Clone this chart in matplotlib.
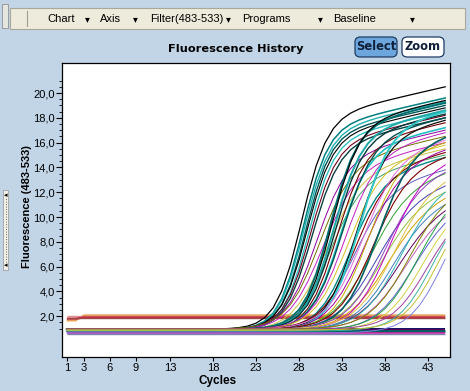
import numpy as np
import matplotlib
matplotlib.use("Agg")
import matplotlib.pyplot as plt
from matplotlib.patches import FancyBboxPatch, Rectangle

# ---------------- data ----------------
cycles = np.arange(1, 46)
x_ticks = [1, 3, 6, 9, 13, 18, 23, 28, 33, 38, 43]
y_ticks = [2, 4, 6, 8, 10, 12, 14, 16, 18, 20]
y_tick_labels = ["2,0", "4,0", "6,0", "8,0", "10,0", "12,0", "14,0", "16,0", "18,0", "20,0"]

# amplification curves:
# midpoint cycle (Ct), fluorescence at the last cycle, steepness, baseline level
amp_ct = [28.2, 28.4, 28.5, 28.7, 28.8, 29.0, 29.2, 29.4,
          29.9, 30.2, 30.6, 31.0, 31.4,
          31.5, 31.7, 31.9, 32.1, 32.3, 32.6, 32.9,
          33.2, 33.5, 33.8, 34.1, 34.4,
          34.6, 34.9, 35.2, 35.5, 35.8, 36.1, 36.4, 36.7, 37.0, 37.3, 37.7, 38.0, 38.3, 38.6,
          38.8, 39.2, 39.6, 40.0, 40.5, 41.0, 41.5, 42.0, 42.6, 43.2, 43.9, 44.6]
amp_end = [20.5, 19.6, 19.3, 19.0, 18.8, 18.5, 18.2, 18.0,
           17.0, 16.5, 16.0, 15.5, 15.0,
           19.2, 19.4, 18.6, 18.3, 17.6, 17.2, 18.0,
           16.8, 15.8, 14.8, 13.8, 15.2,
           17.8, 18.5, 16.2, 15.4, 16.0, 13.5, 14.8, 12.5, 16.4, 12.0, 13.6, 11.5, 14.2, 11.0,
           12.8, 10.5, 12.0, 10.0, 11.0, 9.5, 10.2, 9.0, 8.2, 8.0, 7.4, 6.6]
amp_k = [1.5, 1.45, 1.5, 1.45, 1.5, 1.5, 1.55, 1.6,
         1.8, 1.9, 2.0, 2.0, 1.9,
         1.6, 1.6, 1.65, 1.65, 1.7, 1.7, 1.8,
         1.9, 2.0, 1.9, 2.1, 2.0,
         1.8, 1.8, 2.1, 2.2, 2.0, 2.3, 2.1, 2.4, 2.0, 2.4, 2.2, 2.5, 2.1, 2.3,
         2.3, 2.5, 2.3, 2.4, 2.3, 2.3, 2.2, 2.2, 2.1, 2.0, 2.0, 2.0]
amp_base = [0.95, 0.90, 0.85, 0.95, 0.90, 0.80, 0.95, 0.85,
            0.90, 0.95, 0.85, 0.80, 0.90,
            0.95, 0.85, 0.90, 0.95, 0.80, 0.90, 0.85,
            0.95, 0.90, 0.85, 0.80, 0.95,
            0.90, 0.85, 0.95, 0.80, 0.90, 0.85, 0.95, 0.80, 0.90, 0.85, 0.95, 0.80, 0.90, 0.85,
            0.95, 0.80, 0.90, 0.85, 0.95, 0.80, 0.90, 0.85, 0.95, 0.80, 0.90, 0.65]
PLATEAU_DRIFT = 0.16   # slow rise of the plateau per cycle

# flat (non-amplifying) traces
flat_level = [2.08, 2.00, 1.90, 1.84, 0.97, 0.90, 0.84, 0.66, 0.60]
flat_start_level = [1.65, 2.00, 1.80, 1.84, 0.97, 0.90, 0.84, 0.66, 0.60]

# ---------------- styles ----------------
amp_color = ["#000000", "#008080", "#20B0B0", "#005858", "#000000", "#30C0C0", "#700020", "#0A4040",
             "#9000A0", "#707000", "#C020C0", "#C8C040", "#40A060",
             "#007070", "#000000", "#20A8A8", "#003838", "#700000", "#20C0C0", "#005050",
             "#C020C0", "#D0C020", "#008888", "#6060C0", "#800000",
             "#101010", "#30C8C8", "#E070E0", "#A000A0", "#C0B000", "#30A030", "#800000", "#4040B0",
             "#006060", "#90C040", "#9040C0", "#D0A000", "#C000C0", "#4080C0",
             "#E0C040", "#600060", "#30B0B0", "#C060C0", "#808000", "#6060D0", "#20A040",
             "#D0D040", "#A040A0", "#40B0A0", "#C0C030", "#8080E0"]
amp_lw = [0.9, 1.1, 1.0, 1.0, 0.8, 1.0, 0.8, 1.0,
          0.7, 0.7, 0.7, 0.7, 0.7,
          1.4, 0.9, 1.4, 1.0, 0.8, 1.2, 1.0,
          0.7, 0.7, 1.0, 0.7, 0.8,
          0.9, 1.4, 0.7, 0.7, 0.7, 0.7, 0.8, 0.7, 1.2, 0.7, 0.7, 0.7, 0.7, 0.7,
          0.7, 0.7, 0.7, 0.7, 0.7, 0.7, 0.7, 0.7, 0.7, 0.7, 0.7, 0.7]
flat_color = ["#E8A050", "#E09090", "#C03040", "#A04848", "#101060", "#600060", "#006060", "#D020A0", "#8080B0"]
flat_lw = [1.3, 1.0, 1.6, 1.0, 1.4, 1.2, 2.0, 1.2, 1.0]

BG = "#C2D5E7"

fig = plt.figure(figsize=(4.70, 3.91), dpi=100, facecolor=BG)
W, H = 470.0, 391.0

def fx(px):
    return px / W

def fy(py):
    return 1 - py / H

ax = fig.add_axes([fx(62), fy(357), fx(450) - fx(62), fy(63) - fy(357)])
ax.set_facecolor("white")
ax.set_xlim(0.44, 45.56)
ax.set_ylim(-1.29, 22.42)

# flat traces
for lvl, lvl0, c, lw in zip(flat_level, flat_start_level, flat_color, flat_lw):
    vals = np.full(len(cycles), lvl)
    vals[:2] = lvl0
    ax.plot(cycles, vals, color=c, lw=lw, solid_capstyle="butt")

# amplification curves
last = cycles[-1]
for ct, e, k, b, c, lw in zip(amp_ct, amp_end, amp_k, amp_base, amp_color, amp_lw):
    L = 1 / (1 + np.exp(-(cycles - ct) / k))
    L_last = L[-1]
    h = (e - b) / L_last - PLATEAU_DRIFT * (last - ct)
    vals = b + L * (h + PLATEAU_DRIFT * (cycles - ct))
    ax.plot(cycles, vals, color=c, lw=lw)

for s in ax.spines.values():
    s.set_color("black")
    s.set_linewidth(0.9)

tfont = dict(family="Liberation Sans", size=8)
ax.set_xticks(x_ticks)
ax.set_xticklabels([str(t) for t in x_ticks], fontdict=tfont)
ax.set_yticks(y_ticks)
ax.set_yticklabels(y_tick_labels, fontdict=tfont)
ax.set_yticks(np.arange(1.0, 21.01, 0.5), minor=True)
ax.tick_params(axis="x", length=3, width=0.8, pad=1.5, direction="out")
ax.tick_params(axis="y", which="major", length=4, width=0.8, pad=1, direction="out")
ax.tick_params(axis="y", which="minor", length=2, width=0.6, direction="out")

ax.set_xlabel("Cycles", family="Liberation Sans", weight="bold", size=8.5)
ax.xaxis.set_label_coords((218 - 62) / 388, (357 - 381) / 294)
ax.xaxis.label.set_va("center")
ax.set_ylabel("Fluorescence (483-533)", family="Liberation Sans", weight="bold", size=8)
ax.yaxis.set_label_coords((27 - 62) / 388, (357 - 207) / 294)
ax.yaxis.label.set_va("center")

# ---- window chrome ----
fig.patches.append(Rectangle((fx(10), fy(29)), fx(465) - fx(10), fy(8) - fy(29),
                             transform=fig.transFigure, facecolor="#EEEBDD",
                             edgecolor="#A8A898", lw=0.8))
fig.patches.append(Rectangle((fx(2), fy(28)), fx(8) - fx(2), fy(4) - fy(28),
                             transform=fig.transFigure, facecolor="#E6E6E0",
                             edgecolor="#909090", lw=0.6))
fig.lines.append(plt.Line2D([fx(27), fx(27)], [fy(26), fy(11)], transform=fig.transFigure,
                            color="#A0A090", lw=0.8))
menu_items = [("Chart", 47, 87), ("Axis", 100, 135), ("Filter(483-533)", 150, 228),
              ("Programs", 242, 320), ("Baseline", 333, 412)]
for label, xl, xa in menu_items:
    fig.text(fx(xl), fy(18.5), label, family="Liberation Sans", size=8, va="center", ha="left")
    fig.text(fx(xa), fy(19), "\u25be", family="DejaVu Sans", size=7, va="center", ha="center")

fig.text(fx(236), fy(48.5), "Fluorescence History", family="DejaVu Sans", weight="bold",
         size=8.2, va="center", ha="center")

sel = FancyBboxPatch((fx(355), fy(57)), fx(397) - fx(355), fy(37) - fy(57),
                     boxstyle="round,pad=0,rounding_size=0.012", transform=fig.transFigure,
                     facecolor="#6CA6DC", edgecolor="#1E3C64", lw=0.9)
zm = FancyBboxPatch((fx(402), fy(57)), fx(444) - fx(402), fy(37) - fy(57),
                    boxstyle="round,pad=0,rounding_size=0.012", transform=fig.transFigure,
                    facecolor="white", edgecolor="#1E3C64", lw=0.9)
fig.patches.extend([sel, zm])
fig.text(fx(376), fy(47), "Select", family="DejaVu Sans", weight="bold", size=8.3,
         va="center", ha="center", color="#10203A")
fig.text(fx(423), fy(47), "Zoom", family="DejaVu Sans", weight="bold", size=8.3,
         va="center", ha="center", color="#10203A")

# left side scroll widget
fig.patches.append(Rectangle((fx(3), fy(270)), fx(8) - fx(3), fy(190) - fy(270),
                             transform=fig.transFigure, facecolor="#F2F0E6",
                             edgecolor="#A0A0A0", lw=0.6))
fig.lines.append(plt.Line2D([fx(5.5), fx(5.5)], [fy(262), fy(198)], transform=fig.transFigure,
                            color="#404040", lw=0.6, ls=(0, (1, 2))))
fig.text(fx(5.5), fy(195), "\u25c2", family="DejaVu Sans", size=5, va="center", ha="center")
fig.text(fx(5.5), fy(265), "\u25c2", family="DejaVu Sans", size=5, va="center", ha="center")

fig.savefig("out.png", dpi=100, facecolor=BG)
